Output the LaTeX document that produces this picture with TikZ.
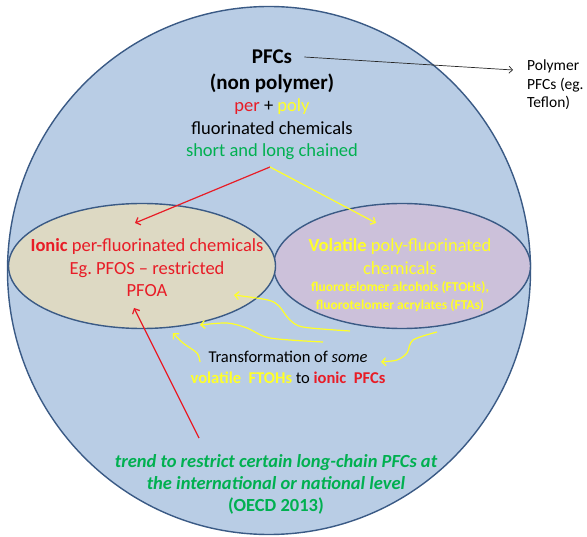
\documentclass[tikz,border=0pt]{standalone}
\usepackage{fontspec}
\setmainfont{Carlito}
\usetikzlibrary{shapes.geometric,arrows.meta}
\definecolor{skyfill}{HTML}{B9CDE5}
\definecolor{rimblue}{HTML}{3A5A85}
\definecolor{tanfill}{HTML}{DDD9C3}
\definecolor{lilacfill}{HTML}{CCC1DA}
\definecolor{pfcred}{RGB}{232,28,38}
\definecolor{pfcyellow}{RGB}{255,255,40}
\definecolor{pfcgreen}{HTML}{00B050}
\frenchspacing

\begin{document}
\begin{tikzpicture}[x=1pt,y=-1pt,
    blob/.style={ellipse, draw=rimblue, line width=1.4pt, inner sep=0pt},
    words/.style={inner sep=0pt, align=center, font=\fontsize{18.5}{22.5}\selectfont},
    redline/.style={draw=pfcred, line width=1.2pt, -{Straight Barb[length=4pt,width=8pt]}},
    yelline/.style={draw=pfcyellow, line width=1.2pt, -{Straight Barb[length=4pt,width=8pt]}},
    thinline/.style={draw=black!85, line width=0.7pt, -{Straight Barb[length=3.5pt,width=7pt]}}]
    \useasboundingbox (0,0) rectangle (587,537);
    % Draw the three bubbles
    \node[blob, fill=skyfill, minimum width=523pt, minimum height=528pt] (world) at (269,270.5) {};
    \node[blob, fill=lilacfill, minimum width=257pt, minimum height=125pt] (volatile) at (402,266) {};
    \node[blob, fill=tanfill, minimum width=267pt, minimum height=125pt] (ionic) at (142,266) {};
    % Heading of the big bubble
    \node[words, font=\bfseries\fontsize{21}{26}\selectfont] (pfcs) at (272,57) {PFCs};
    \node[words, font=\bfseries\fontsize{21}{26}\selectfont] (nonpoly) at (272,83) {(non polymer)};
    \node[words] (family) at (272,129.5) {\textcolor{pfcred}{per} + \textcolor{pfcyellow}{poly}\\fluorinated chemicals\\\textcolor{pfcgreen}{short and long chained}};
    \node[words, align=left, anchor=west, font=\fontsize{15.5}{18.5}\selectfont] (polymer) at (527,85) {Polymer\\PFCs (eg.\\Teflon)}; % Text
    \coordinate (polytip) at (513,70);
    \draw[thinline] ([xshift=12pt]pfcs.east) -- (polytip); % Pointer
    % Texts inside the two bubbles
    \node[words, text=pfcred] (ionictxt) at (147,268) {\textbf{Ionic} per-fluorinated chemicals\\Eg. PFOS – restricted\\PFOA};
    \node[words, text=pfcyellow] (voltitle) at (400,256.5) {\textbf{Volatile} poly-fluorinated\\chemicals};
    \node[words, text=pfcyellow, font=\bfseries\fontsize{13.5}{18}\selectfont] (volsub) at (400,297) {fluorotelomer alcohols (FTOHs),\\fluorotelomer acrylates (FTAs)};
    % Transformation and trend
    \node[words, font=\fontsize{16.5}{21}\selectfont] (transform) at (288,367.5) {Transformation of \textit{some}\\\textbf{\textcolor{pfcyellow}{volatile}\ \ \textcolor{pfcyellow}{FTOHs}} to \textbf{\textcolor{pfcred}{ionic}\ \ \textcolor{pfcred}{PFCs}}};
    \node[words, text=pfcgreen, font=\bfseries\itshape\fontsize{18.5}{22}\selectfont] (trend) at (276,484) {trend to restrict certain long-chain PFCs at\\the international or national level\\\textup{(OECD 2013)}};
    % Arrows
    \coordinate (fork) at (270,167);
    \coordinate (ionicin) at (135,223);
    \coordinate (volin) at (376,223);
    \coordinate (trendtop) at (199,438);
    \coordinate (pfoain) at (134,308);
    \draw[redline] (fork) -- (ionicin);
    \draw[yelline] (fork) -- (volin);
    \draw[redline] (trendtop) -- (pfoain);
    % Curly yellow pointers
    \draw[yelline] plot[smooth] coordinates {(350,331) (303,327) (289,319) (279,306) (268,300) (234,295)};
    \draw[yelline] plot[smooth] coordinates {(323,342) (270,338) (247,328) (227,323) (200,325)};
    \draw[yelline] plot[smooth] coordinates {(200,362) (197,353) (183,343) (173,333)};
    \draw[yelline] plot[smooth] coordinates {(437,332) (413,340) (407,353) (397,360) (381,362)};
\end{tikzpicture}
\end{document}
